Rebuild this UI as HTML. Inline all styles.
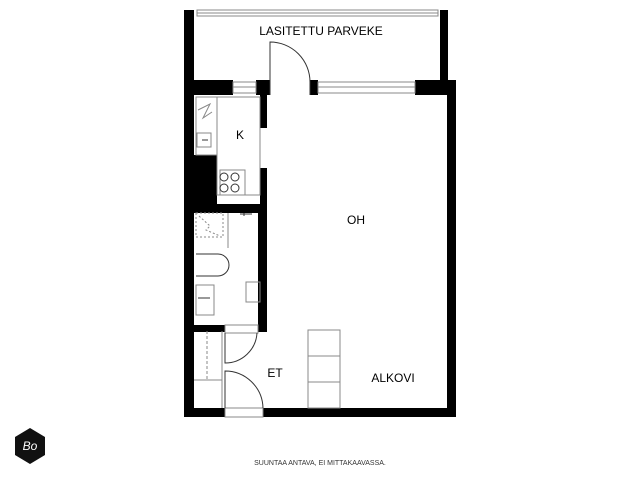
<!DOCTYPE html><html><head><style>body{margin:0;background:#fff}svg{display:block}</style></head><body>
<svg width="640" height="477" viewBox="0 0 640 477" xmlns="http://www.w3.org/2000/svg" font-family="Liberation Sans, sans-serif">
<g fill="#000">
<rect x="184" y="10" width="10" height="85"/>
<rect x="440" y="10" width="8" height="72"/>
<rect x="184" y="80" width="49" height="15"/>
<rect x="256" y="80" width="14" height="15"/>
<rect x="310" y="80" width="8" height="15"/>
<rect x="415" y="80" width="41" height="15"/>
<rect x="447" y="80" width="9" height="337"/>
<rect x="184" y="80" width="10" height="337"/>
<rect x="184" y="408" width="41" height="9"/>
<rect x="263" y="408" width="193" height="9"/>
<rect x="260" y="95" width="7" height="33"/>
<rect x="260" y="168" width="7" height="162"/>
<rect x="184" y="155" width="33" height="55"/>
<rect x="184" y="204" width="83" height="9"/>
<rect x="184" y="325" width="41" height="7"/>
<rect x="258" y="204" width="9" height="128"/>
</g>
<g fill="none" stroke="#888" stroke-width="1">
<rect x="197" y="10" width="241" height="6"/>
<line x1="197" y1="13" x2="438" y2="13"/>
<rect x="233" y="82" width="23" height="11"/><line x1="233" y1="87" x2="256" y2="87"/>
<rect x="318" y="82" width="97" height="11"/><line x1="318" y1="87" x2="415" y2="87"/>
<rect x="196" y="97" width="21" height="58"/>
<rect x="217" y="97" width="43" height="98"/>
<rect x="220" y="170" width="25" height="25"/>
<rect x="197" y="133" width="14" height="14"/>
<rect x="196" y="213" width="27" height="24" stroke-dasharray="2,2"/>
<path d="M199 216 L210 226 L206 230 L220 236" stroke-dasharray="2,2"/>
<line x1="228" y1="213" x2="228" y2="248"/>
<rect x="246" y="282" width="14" height="20"/>
<rect x="196" y="285" width="18" height="30"/>
<rect x="225" y="325" width="33" height="8"/>
<rect x="225" y="408" width="38" height="9"/>
<line x1="222" y1="331" x2="222" y2="408"/>
<line x1="207" y1="331" x2="207" y2="380" stroke-dasharray="3,2"/>
<line x1="194" y1="380" x2="222" y2="380"/>
<rect x="308" y="330" width="32" height="78"/>
<line x1="308" y1="356" x2="340" y2="356"/><line x1="308" y1="382" x2="340" y2="382"/>
</g>
<g fill="none" stroke="#333" stroke-width="1">
<circle cx="224" cy="177" r="4"/><circle cx="235" cy="177" r="4"/><circle cx="224" cy="188" r="4"/><circle cx="235" cy="188" r="4"/>
<path d="M270 95 V42 A40 40 0 0 1 310 82 V95"/>
<path d="M225 333 V363 A32 32 0 0 0 257 333"/>
<path d="M225 408 V371 A38 38 0 0 1 263 408"/>
<path d="M196 254 H218 A11 11 0 0 1 218 276 H196"/>
<path d="M198 110 L210 104 L203 118 L212 112" stroke="#888"/>
<path d="M202 140 H208 M198 298 H210 M244 213 V216 M240 214 H252"/>
</g>
<text x="321" y="35" font-size="12" text-anchor="middle">LASITETTU PARVEKE</text>
<text x="240" y="139" font-size="12" text-anchor="middle">K</text>
<text x="356" y="224" font-size="12" text-anchor="middle">OH</text>
<text x="275" y="377" font-size="12" text-anchor="middle">ET</text>
<text x="393" y="382" font-size="12" text-anchor="middle">ALKOVI</text>
<text x="320" y="465" font-size="7" text-anchor="middle" fill="#333">SUUNTAA ANTAVA, EI MITTAKAAVASSA.</text>
<polygon points="30,428 45,437 45,455 30,464 15,455 15,437" fill="#111"/>
<text x="30" y="450" font-size="12" fill="#fff" text-anchor="middle" font-style="italic">Bo</text>
</svg>
</body></html>
